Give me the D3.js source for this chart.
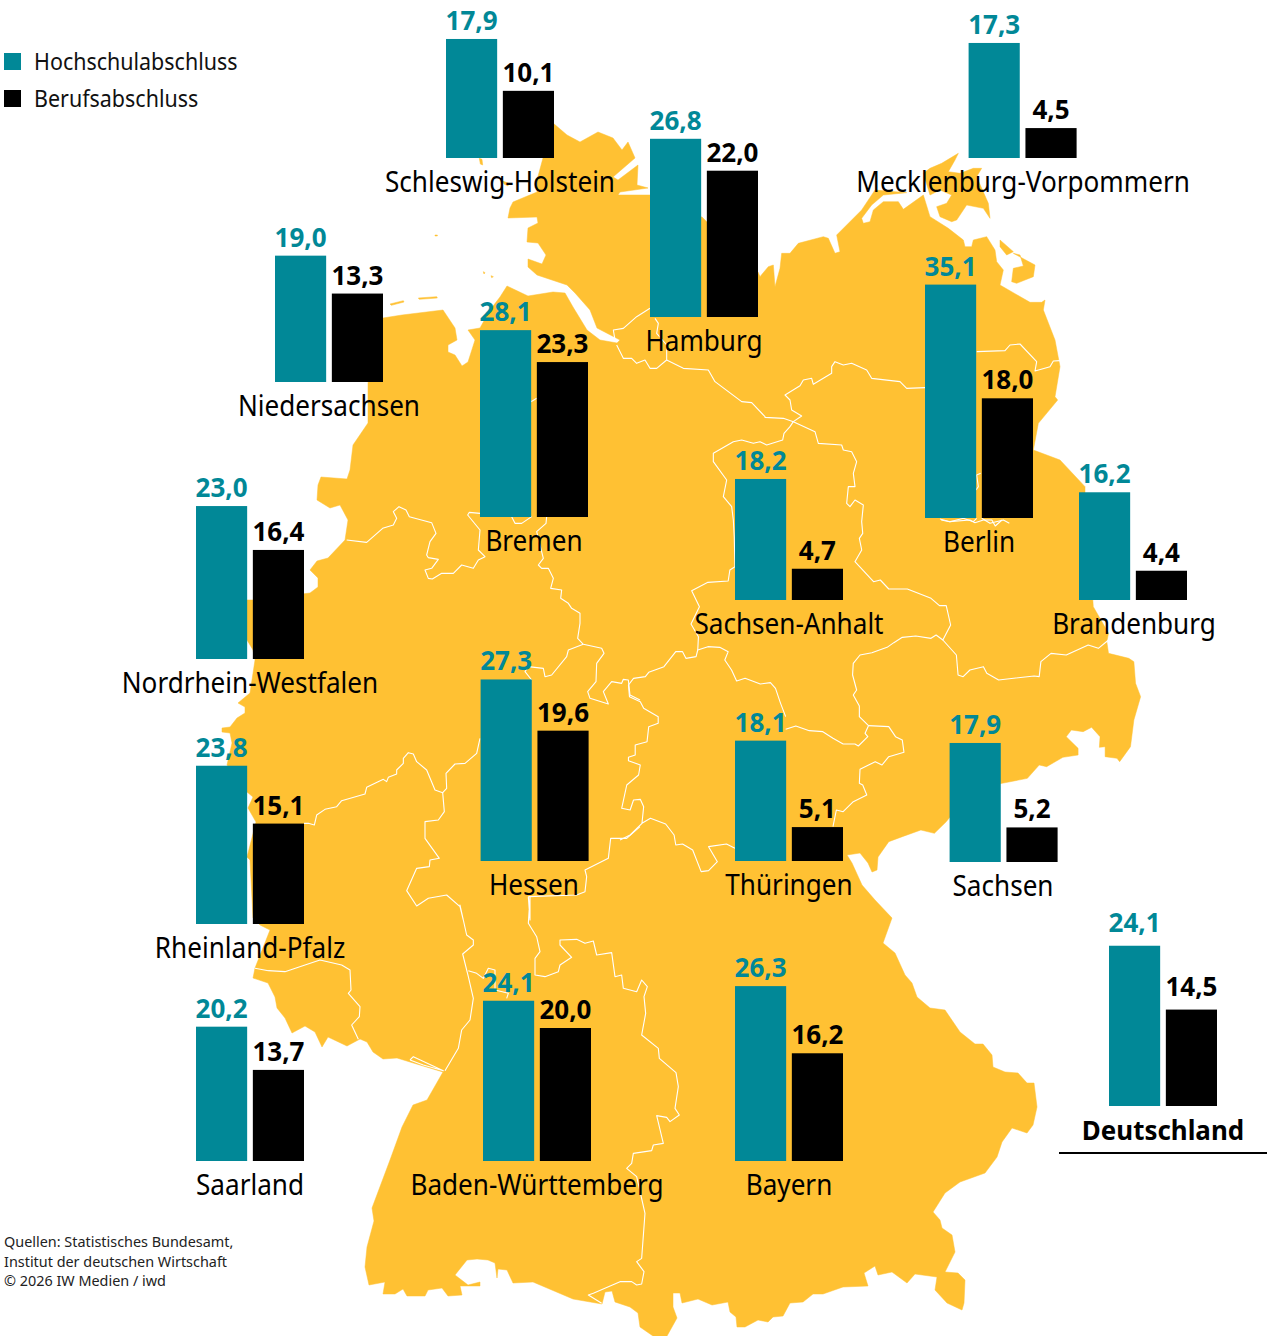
<!DOCTYPE html>
<html><head><meta charset="utf-8">
<script src="https://cdn.jsdelivr.net/npm/d3@7"></script>
<style>html,body{margin:0;padding:0;background:#fff}svg{display:block}text{font-family:"Noto Sans",sans-serif}</style>
</head><body><svg id="c" width="1267" height="1336"></svg>
<script>
const states=["Schleswig-Holstein","Mecklenburg-Vorpommern","Hamburg","Niedersachsen","Bremen","Berlin","Sachsen-Anhalt","Brandenburg","Nordrhein-Westfalen","Hessen","Thüringen","Sachsen","Rheinland-Pfalz","Saarland","Baden-Württemberg","Bayern","Deutschland"];
const hochschul=[17.9,17.3,26.8,19.0,28.1,35.1,18.2,16.2,23.0,27.3,18.1,17.9,23.8,20.2,24.1,26.3,24.1];
const beruf=[10.1,4.5,22.0,13.3,23.3,18.0,4.7,4.4,16.4,19.6,5.1,5.2,15.1,13.7,20.0,16.2,14.5];
const series=["Hochschulabschluss","Berufsabschluss"];
const sources=["Quellen: Statistisches Bundesamt,","Institut der deutschen Wirtschaft","© 2026 IW Medien / iwd"];

// layout of each small chart on the map: left edge of first bar, baseline, label centre
const slotX=[446,968.6,650,275,480,925,735,1079,196,480.6,735,949.6,196,196,483,735,1109];
const slotY=[158,158,317,382,517,518,600,600,659,861,861,862,924,1161,1161,1161,1106];
const labelX=[500,1023,704,329,534,979,789,1134,250,534,789,1003,250,250,537,789,1163];

const TEAL="#018897",YEL="#FFC133";
const svg=d3.select("#c");
const crop=(ox,oy,s,kx=3)=>s.trim().split(/\s+/).map(p=>{const [a,b]=p.split(",").map(Number);return [ox+a/kx,oy+b/3];});
const full=s=>s.trim().split(/\s+/).map(p=>p.split(",").map(Number));
const Z1=s=>crop(380,120,s),Z2=s=>crop(760,140,s),Z3=s=>crop(200,480,s),Z4=s=>crop(620,520,s,2.958),Z5=s=>crop(240,880,s);

const mainland=[].concat(
 full("553,123 567,135 580,142 598,132 613,138 622,150 628,142 635,158 613,177 618,180 638,165 637,185 648,188 620,192 618,195 650,195 650,208 702,217 707,222 758,272"),
 Z2("0,410 25,380 40,375 45,440 60,385 65,340 90,340 115,310 190,290 205,295 225,340 240,335 230,285 305,210 345,150 440,158 370,165 335,195 305,235 310,250 330,245 340,210 370,185 415,185 430,208 490,165 510,230 565,265 610,300 615,320 635,320 640,300 680,290 705,330 710,365 730,390 720,435 810,487 845,487 855,480 850,510 885,600 900,680 885,770 893,780 835,850 820,930 900,960 975,1040 975,1060"),
 Z4("1400,260 1445,340 1440,365 1445,400 1505,415 1520,425 1525,490 1540,530 1520,600 1510,680 1478,725 1470,715 1435,710 1435,680 1418,682 1420,650 1395,622 1370,635 1335,630 1320,650 1355,685 1355,705 1310,712 1262,740 1240,735 1205,775 1130,790 1040,810 965,905 930,940 890,930 835,950 795,965"),
 full("878,857 877,870 872,872 868,863 860,853 847,855 852,863 862,885 875,900 892,918 883,943 895,953 905,975 912,983 917,997 930,1008 945,1010 960,1032 975,1044 983,1044 992,1055 993,1067 1005,1072 1018,1073 1027,1083 1034,1083 1037,1107 1033,1125 1027,1133 1012,1128 1002,1142 997,1157 985,1173 960,1182 945,1193 933,1212 940,1220 942,1228 952,1235 955,1252 945,1272 958,1273 965,1280 964,1303 962,1310 947,1303 935,1290 937,1277 915,1274 907,1283 892,1272 878,1275 875,1266 864,1273 868,1286 843,1287 823,1294 813,1294 803,1302 790,1303 783,1316 773,1317 768,1322 758,1320 745,1327 737,1327 736,1317 730,1312 728,1302 712,1305 698,1299 682,1303 680,1293 673,1293 673,1307 677,1318 667,1336 653,1336 640,1327 638,1313 630,1307 615,1302 612,1291 605,1292 602,1304 573,1299 533,1282 513,1283 507,1270 498,1269 497,1278 495,1263 488,1260 477,1259 467,1260 455,1275 468,1285 480,1282 480,1286 460,1286 462,1295 448,1296 442,1288 428,1290 425,1296 407,1296 403,1289 395,1294 383,1294 385,1282 369,1285 365,1267 367,1247 374,1221 372,1208 390,1160 402,1127 413,1105 427,1100 443,1072 410,1062 397,1058 383,1059 373,1052 367,1042 360,1039 347,1046 328,1037 322,1047 315,1032 305,1026 292,1033 285,1018 277,1008 275,997 268,983 253,978 255,968 270,930 260,925 253,918 250,860 247,857 256,822 248,808 253,797 247,792 227,765 232,743 230,733 222,732 222,728 230,727 237,718 245,713 245,707 238,703 250,693 255,660 253,650 247,640 247,600 253,600 310,593 318,587 318,578 310,570 317,561 328,558 345,540 348,520 340,505 330,508 317,500 318,485 321,477 347,479 350,470 353,445 368,423 368,383 383,318 402,315 443,310 455,328 457,340 448,345 448,352 455,355 462,366 468,362 475,340 468,330 480,328 490,310 500,297 507,286 528,296 553,292 565,293 573,307 587,330 600,340 617,343 620,340 597,328 590,310 575,293 567,285 537,275 528,267 528,259 542,264 546,255 538,243 527,242 528,228 538,223 537,217 508,218 510,208 513,202 537,192 537,180 543,158")
);
const islands=[
 Z2("545,70 595,40 585,60 565,95 600,100 640,85 665,85 650,110 665,145 685,190 690,235 670,205 620,195 590,240 575,245 540,230 530,200 560,190 575,165 540,150 510,165 490,100 510,85"),
 Z2("720,300 760,335 740,345 720,320"),
 Z2("760,340 825,375 820,410 770,430 755,425 760,385 790,378 780,345"),
 Z1("30,552 70,542 72,546 34,556"),Z1("115,534 170,530 172,534 118,538"),Z1("165,345 172,345 172,348 165,348"),
 Z1("310,455 315,458 312,462"),Z1("333,467 340,470 335,473"),
 Z1("298,115 306,118 308,135 301,132"),Z1("368,183 386,190 384,198 372,192")
];
const borders=[
 Z1("705,660 700,630 730,625 770,590 810,565"),
 Z1("825,595 835,610 830,640 860,675 860,720 830,745 810,745 795,720 770,730 755,715 730,715 710,675"),
 Z1("860,720 910,745 985,750 1005,785 1085,845 1115,848 1155,890").concat(Z2("15,832 70,835 100,845 165,875 175,910 245,915 250,930 275,935 290,965 280,1000 285,1040 265,1040 260,1090 270,1100 285,1080 310,1095 305,1145"),Z4("718,40 708,55 715,90 695,125 750,185 770,180 795,207 850,207 920,235 945,257 965,257 978,315 955,360 935,345 920,355 875,348 835,352 810,368 790,382 745,398 710,405 690,430 688,465 700,510 690,525 708,558 708,590 735,617 725,640 733,650 705,678 695,672 660,672 630,655 600,635 560,632 520,618 490,628")),
 Z2("495,743 440,745 420,725 335,715 320,690 275,670 250,675 225,665 215,680 215,700 160,733 155,715 130,720 120,737 75,765 90,780 95,810 125,828 100,845 90,860 72,880 68,900 20,915 0,905").concat(Z1("1120,970 1085,960 1060,965 1000,1000 1000,1025 1040,1080 1030,1130 1055,1160 1060,1200"),Z4("338,50 340,140 325,150 320,183 260,187 212,212 235,260 210,312 232,350 230,390")),
 Z4("490,590 475,550 460,505 445,488 415,492 370,475 345,483 330,450 310,420 320,395 295,382 260,380 230,390 225,410 195,415 185,395 165,395 130,440 85,457 75,470 40,475 25,495 28,530 60,545 70,565 113,590 113,610 85,620 80,665 45,675 45,705 25,712 25,722 60,735 55,765 20,795 5,865 30,870 40,840 60,838 70,860 65,910 90,895 135,912 160,945 165,975 185,972 215,990 240,1055 262,1052 288,1025 262,980 315,972 340,985"),
 Z4("630,920 640,870 660,875 690,845 730,825 718,795 708,790 710,748 755,725 775,735 795,710 840,697 835,660 815,650 795,620 735,617"),
 Z4("955,360 995,405 1000,465 1015,470 1035,450 1075,440 1085,460 1120,480 1225,468 1240,470 1245,425 1275,400 1320,405 1385,375 1415,385 1445,360"),
 Z2("650,635 735,632 750,615 780,612 830,665 825,693 870,680 880,663 900,662"),
 Z2("540,1137 570,1145 610,1135 640,1145 650,1135"),Z2("665,1135 690,1150 730,1140 748,1150"),Z2("662,1000 650,1005 655,1040 648,1050"),
 Z4("950,0 975,5 1035,0 1050,8 1075,0 1100,0 1110,18 1130,0"),
 Z1("453,845 470,835"),
 Z3("440,180 500,187 548,145 580,135 590,115 580,95 597,80 618,90 628,110 695,128 708,160 690,185 680,225 685,233 715,238 695,265 675,270 685,295 697,297 725,280 760,280 785,255 820,265 835,240 855,230 835,210 840,150 803,105 808,97 840,100"),
 Z3("935,110 945,130 965,130 995,110"),
 Z3("1040,110 1038,130 1010,155 1030,235 1015,255 1025,265 1045,265 1060,295 1052,325 1085,330 1082,355 1105,370 1115,385 1140,400 1140,430 1133,475 1150,493 1205,505 1212,520 1190,550 1188,605 1163,635 1170,655 1225,672 1210,635 1235,605 1265,610 1270,598 1285,600 1290,645 1320,660"),
 Z3("1150,493 1105,510 1100,530 1055,585 1035,590 1030,565 985,560 975,575 995,600"),
 Z3("840,775 830,820 795,850 765,852 738,880 740,925 728,938 705,930 680,870 650,845 640,822 625,818 610,835 610,850 590,870 590,882 565,892 560,905 550,898 500,922 495,942 425,962 410,980 375,988 350,1005 343,1035 325,1030 312,1030"),
 Z3("728,938 733,995 715,1020 675,1025 675,1075 718,1135 690,1140 688,1160 650,1165 620,1232 650,1278 685,1255 740,1245 780,1280 790,1320").concat(Z5("660,75 680,165 700,180 700,195 668,222 685,290 700,355 690,420 665,450 655,505 615,572")),
 Z5("510,540 520,530 610,572 550,555 510,540"),
 Z5("45,265 85,272 135,275 195,255 240,240 305,255 330,270 333,330 325,340 360,380 358,410 335,435 355,478"),
 Z5("685,272 710,280 730,295 745,265 765,270 765,330 805,340 800,355"),
 Z3("985,1250 990,1320").concat(Z5("870,50 865,130 890,170 900,215 885,235 885,285 915,290 955,275 960,255 995,232 960,195 960,180 1010,178 1035,190 1060,183 1070,225 1115,218 1125,290 1145,285 1150,325 1190,335 1205,300 1222,320 1212,350 1217,400 1205,465 1255,505 1258,535 1308,578 1315,620 1305,685 1318,705 1290,725 1280,712 1250,707 1270,790 1240,795 1235,812 1180,820 1175,850 1160,865 1190,890 1215,1000 1205,1135 1190,1145 1212,1175 1205,1212 1190,1215 1175,1205 1140,1205 1060,1240 1045,1245 1085,1270")),
 Z3("1320,1040 1280,1075 1232,1075 1225,1135 1155,1170 1160,1190 1155,1235 1130,1245 985,1250"),
 Z4("65,910 30,945 0,960")
];

const line=d3.line();
const map=svg.append("g");
map.selectAll("path.land").data([mainland,...islands]).join("path").attr("class","land")
  .attr("d",d=>line(d)+"Z").attr("fill",YEL).attr("stroke",YEL).attr("stroke-width",.5).attr("stroke-linejoin","round");
map.selectAll("path.border").data(borders).join("path").attr("class","border")
  .attr("d",d=>line(d)).attr("fill","none").attr("stroke","#fff").attr("stroke-width",1.1).attr("stroke-linejoin","round");

// scales
const h=d3.scaleLinear().domain([0,35.1]).range([0,233.4]);
const xBand=d3.scaleBand().domain(series).range([0,108]).paddingInner(0.1).paddingOuter(0);
const fmt=v=>d3.format(".1f")(v).replace(".",",");
const squeeze=(sel,f)=>sel.each(function(){this.setAttribute("textLength",this.getComputedTextLength()*f);this.setAttribute("lengthAdjust","spacingAndGlyphs");});

const groups=svg.selectAll("g.st").data(states).join("g").attr("class","st");
groups.each(function(name,i){
  const g=d3.select(this),vals=[hochschul[i],beruf[i]];
  const isTotal=name==="Deutschland";
  vals.forEach((v,k)=>{
    const x=slotX[i]+xBand(series[k]),w=xBand.bandwidth(),top=slotY[i]-h(v);
    g.append("rect").attr("x",x).attr("y",top).attr("width",w).attr("height",h(v)).attr("fill",k?"#000":TEAL);
    g.append("text").attr("x",x+w/2).attr("y",top-(isTotal?14:9)).attr("text-anchor","middle").attr("font-size",26).attr("font-weight",700)
      .attr("fill",k?"#000":TEAL).text(fmt(v));
  });
  g.append("text").attr("x",labelX[i]).attr("y",slotY[i]+34).attr("text-anchor","middle")
    .attr("font-size",isTotal?27:29).attr("font-weight",isTotal?700:400).attr("fill","#000").text(name).call(squeeze,isTotal?.96:.9);
});
svg.append("rect").attr("x",1059).attr("y",1152).attr("width",208).attr("height",2).attr("fill","#000");

// legend
series.forEach((s,i)=>{
  svg.append("rect").attr("x",4).attr("y",53+i*37).attr("width",17).attr("height",17).attr("fill",i?"#000":TEAL);
  svg.append("text").attr("x",34).attr("y",70+i*37).attr("font-size",23).attr("fill","#111").text(s).call(squeeze,.933);
});
sources.forEach((s,i)=>{
  svg.append("text").attr("x",4).attr("y",1247+i*19.5).attr("font-size",15).attr("fill","#222").text(s).call(squeeze,.96);
});
</script></body></html>
